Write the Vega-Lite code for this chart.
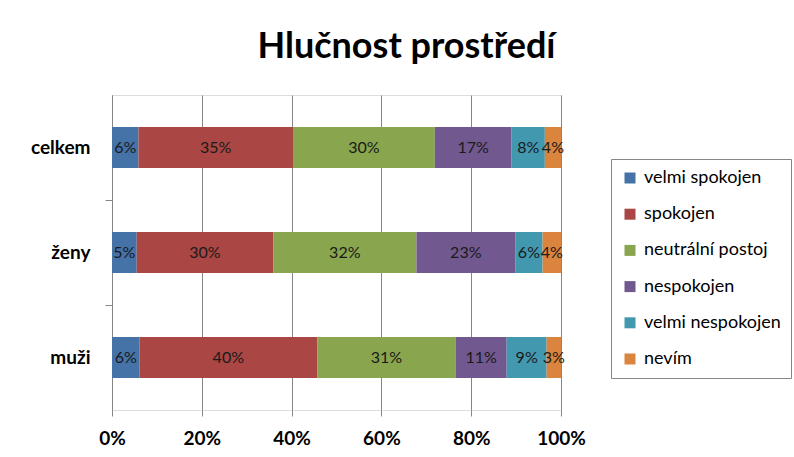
{
  "$schema": "https://vega.github.io/schema/vega-lite/v6.json",
  "width": 449,
  "height": 315,
  "autosize": "none",
  "padding": {"left": 112, "top": 95, "right": 233, "bottom": 47},
  "background": "white",
  "title": {
    "text": "Hlučnost prostředí",
    "font": "Lato",
    "fontSize": 36,
    "fontWeight": "bold",
    "color": "black",
    "anchor": "middle",
    "dx": 70,
    "dy": 34,
    "offset": 35,
    "baseline": "alphabetic"
  },
  "data": {
    "values": [
      {"group": "celkem", "answer": "velmi spokojen", "rank": 1, "value": 5.9, "label": "6%"},
      {"group": "celkem", "answer": "spokojen", "rank": 2, "value": 34.4, "label": "35%"},
      {"group": "celkem", "answer": "neutrální postoj", "rank": 3, "value": 31.6, "label": "30%"},
      {"group": "celkem", "answer": "nespokojen", "rank": 4, "value": 17.1, "label": "17%"},
      {"group": "celkem", "answer": "velmi nespokojen", "rank": 5, "value": 7.4, "label": "8%"},
      {"group": "celkem", "answer": "nevím", "rank": 6, "value": 3.6, "label": "4%"},
      {"group": "ženy", "answer": "velmi spokojen", "rank": 1, "value": 5.5, "label": "5%"},
      {"group": "ženy", "answer": "spokojen", "rank": 2, "value": 30.4, "label": "30%"},
      {"group": "ženy", "answer": "neutrální postoj", "rank": 3, "value": 31.9, "label": "32%"},
      {"group": "ženy", "answer": "nespokojen", "rank": 4, "value": 22.0, "label": "23%"},
      {"group": "ženy", "answer": "velmi nespokojen", "rank": 5, "value": 6.1, "label": "6%"},
      {"group": "ženy", "answer": "nevím", "rank": 6, "value": 4.1, "label": "4%"},
      {"group": "muži", "answer": "velmi spokojen", "rank": 1, "value": 6.1, "label": "6%"},
      {"group": "muži", "answer": "spokojen", "rank": 2, "value": 39.6, "label": "40%"},
      {"group": "muži", "answer": "neutrální postoj", "rank": 3, "value": 30.8, "label": "31%"},
      {"group": "muži", "answer": "nespokojen", "rank": 4, "value": 11.4, "label": "11%"},
      {"group": "muži", "answer": "velmi nespokojen", "rank": 5, "value": 8.9, "label": "9%"},
      {"group": "muži", "answer": "nevím", "rank": 6, "value": 3.2, "label": "3%"}
    ]
  },
  "encoding": {
    "y": {
      "field": "group",
      "type": "nominal",
      "sort": ["celkem", "ženy", "muži"],
      "scale": {"paddingInner": 0.61, "paddingOuter": 0.305},
      "axis": {
        "title": null,
        "labelFont": "Lato",
        "labelFontSize": 19,
        "labelFontWeight": "bold",
        "labelColor": "black",
        "labelPadding": 15,
        "tickOffset": 52.5,
        "labelOffset": -52.5,
        "tickSize": 7,
        "tickColor": "#868686",
        "tickOpacity": {"condition": {"test": "datum.value === 'muži'", "value": 0}, "value": 1},
        "domainColor": "#868686",
        "grid": false
      }
    },
    "x": {
      "field": "value",
      "type": "quantitative",
      "stack": "normalize",
      "scale": {"domain": [0, 1]},
      "axis": {
        "title": null,
        "values": [0, 0.2, 0.4, 0.6, 0.8, 1],
        "format": ".0%",
        "labelFont": "Lato",
        "labelFontSize": 19,
        "labelFontWeight": "bold",
        "labelColor": "black",
        "labelPadding": 13,
        "domain": false,
        "tickSize": 6,
        "tickColor": "#868686",
        "grid": true,
        "gridColor": "#868686",
        "labelFlush": false
      }
    },
    "order": {"field": "rank", "type": "quantitative"}
  },
  "layer": [
    {
      "mark": {"type": "bar"},
      "encoding": {
        "color": {
          "field": "answer",
          "type": "nominal",
          "sort": ["velmi spokojen", "spokojen", "neutrální postoj", "nespokojen", "velmi nespokojen", "nevím"],
          "scale": {
            "domain": ["velmi spokojen", "spokojen", "neutrální postoj", "nespokojen", "velmi nespokojen", "nevím"],
            "range": ["#4572A7", "#AA4643", "#89A54E", "#71588F", "#4198AF", "#DB843D"]
          },
          "legend": {
            "title": null,
            "orient": "none",
            "legendX": 499,
            "legendY": 64,
            "strokeColor": "#868686",
            "fillColor": "white",
            "padding": 10,
            "symbolType": "square",
            "symbolSize": 121,
            "symbolStrokeWidth": 0,
            "labelFont": "Lato",
            "labelFontSize": 18,
            "labelColor": "black",
            "labelOffset": 5,
            "rowPadding": 18.2,
            "labelLimit": 300
          }
        }
      }
    },
    {
      "mark": {"type": "text", "font": "Lato", "fontSize": 16, "color": "#1a1a1a", "baseline": "middle", "align": "center"},
      "encoding": {
        "x": {"field": "value", "type": "quantitative", "stack": "normalize", "bandPosition": 0.5},
        "text": {"field": "label", "type": "nominal"}
      }
    }
  ]
}
